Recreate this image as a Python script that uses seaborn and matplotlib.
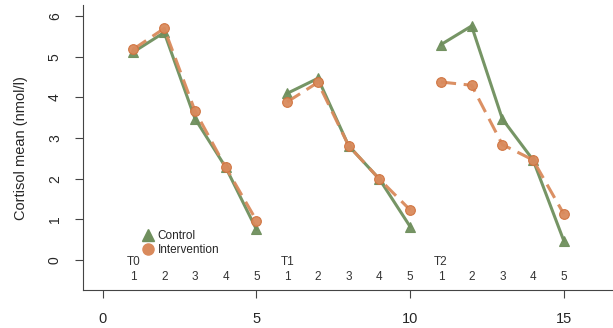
import pandas as pd
import numpy as np
import matplotlib.pyplot as plt
import seaborn as sns
from matplotlib.lines import Line2D

# mean cortisol per sample, three sessions x five samples
sessoes = ['T0', 'T1', 'T2']
amostras = [1, 2, 3, 4, 5]
controle = [5.12, 5.60, 3.48, 2.28, 0.75,
            4.10, 4.47, 2.81, 1.99, 0.82,
            5.30, 5.76, 3.47, 2.46, 0.47]
intervencao = [5.19, 5.70, 3.67, 2.28, 0.97,
               3.89, 4.37, 2.81, 1.99, 1.23,
               4.38, 4.30, 2.84, 2.46, 1.13]

verde = '#6f8f5d'
laranja = '#d98a5c'

pos = np.arange(1, 16)
sess_col = np.repeat(sessoes, len(amostras))
df = pd.concat([
    pd.DataFrame({'x': pos, 'y': controle, 'grupo': 'Control', 'sessao': sess_col}),
    pd.DataFrame({'x': pos, 'y': intervencao, 'grupo': 'Intervention', 'sessao': sess_col}),
])

sns.set_style('ticks')
plt.rcParams['font.family'] = ['Liberation Sans', 'DejaVu Sans']

fig = plt.figure(figsize=(6.13, 3.28), dpi=100)
ax = fig.add_axes([0.135, 0.116, 0.865, 0.868])

sns.lineplot(data=df, x='x', y='y', hue='grupo', style='grupo', units='sessao',
             estimator=None, palette={'Control': verde, 'Intervention': laranja},
             markers={'Control': '^', 'Intervention': 'o'},
             dashes={'Control': '', 'Intervention': (5, 2.5)},
             markersize=7, markeredgewidth=0.8, linewidth=2.2, alpha=0.95,
             legend=False, ax=ax)
for l in ax.lines:
    if l.get_marker() == 'o':
        l.set_markeredgecolor('#d0733f')
    else:
        l.set_markeredgecolor(verde)

# session and sample labels
for i, s in enumerate(sessoes):
    ax.text(1 + i * 5, -0.05, s, ha='center', va='center', fontsize=8.5, color='#333333')
for p in pos:
    ax.text(p, -0.43, str(amostras[(p - 1) % 5]), ha='center', va='center',
            fontsize=8.5, color='#333333')

handles = [Line2D([], [], marker='^', color=verde, linestyle='', markersize=8),
           Line2D([], [], marker='o', color=laranja, linestyle='', markersize=8)]
ax.legend(handles, ['Control', 'Intervention'], loc='lower left',
          bbox_to_anchor=(0.09, 0.09), frameon=False, fontsize=8.5,
          handletextpad=0.1, labelspacing=0.15, handlelength=1.5, borderpad=0.2)

ax.set_xlim(-0.65, 16.6)
ax.set_ylim(-0.74, 6.27)
ax.set_xticks([0, 5, 10, 15])
ax.set_yticks(range(7))
ax.tick_params(axis='x', labelsize=10.5, length=6, pad=10, color='#444444')
ax.tick_params(axis='y', labelsize=10, length=6, pad=9, color='#444444')
plt.setp(ax.get_yticklabels(), rotation=90, va='center')
ax.set_xlabel('')
ax.set_ylabel('Cortisol mean (nmol/l)', fontsize=10.5, labelpad=14)
sns.despine(ax=ax)
for sp in ['left', 'bottom']:
    ax.spines[sp].set_color('#444444')

fig.savefig('out.png', dpi=100)
